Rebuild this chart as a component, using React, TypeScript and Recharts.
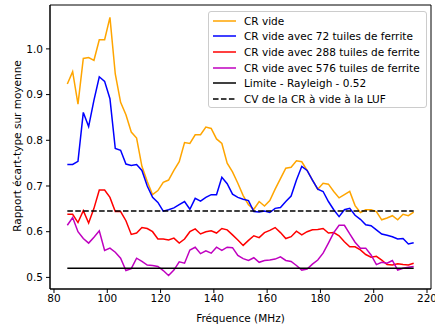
import { LineChart, Line, XAxis, YAxis, ReferenceLine, ReferenceArea } from 'recharts';

const freqs = [
  85, 87, 89, 91, 93, 95, 97, 99, 101, 103, 105, 107, 109, 111, 113, 115, 117, 119, 121, 123,
  125, 127, 129, 131, 133, 135, 137, 139, 141, 143, 145, 147, 149, 151, 153, 155, 157, 159, 161, 163,
  165, 167, 169, 171, 173, 175, 177, 179, 181, 183, 185, 187, 189, 191, 193, 195, 197, 199, 201, 203,
  205, 207, 209, 211, 213, 215,
];

const crVide = [
  0.923, 0.95, 0.879, 0.979, 0.981, 0.975, 1.02, 1.02, 1.069, 0.945, 0.883, 0.856, 0.818, 0.805, 0.743, 0.71, 0.681, 0.69, 0.708, 0.713,
  0.734, 0.753, 0.795, 0.793, 0.812, 0.812, 0.829, 0.826, 0.803, 0.793, 0.75, 0.731, 0.706, 0.679, 0.659, 0.649, 0.666, 0.656, 0.668, 0.693,
  0.716, 0.739, 0.741, 0.755, 0.753, 0.734, 0.713, 0.693, 0.706, 0.704, 0.688, 0.674, 0.681, 0.688, 0.657, 0.642, 0.648, 0.648, 0.644, 0.626,
  0.63, 0.635, 0.626, 0.638, 0.635, 0.643,
];

const crVide72 = [
  0.747, 0.747, 0.754, 0.861, 0.83, 0.888, 0.939, 0.929, 0.891, 0.782, 0.778, 0.748, 0.745, 0.747, 0.734, 0.7, 0.675, 0.664, 0.645, 0.648,
  0.652, 0.659, 0.666, 0.649, 0.673, 0.667, 0.675, 0.681, 0.681, 0.719, 0.705, 0.682, 0.675, 0.671, 0.668, 0.644, 0.643, 0.645, 0.642, 0.651,
  0.653, 0.666, 0.678, 0.713, 0.743, 0.734, 0.713, 0.693, 0.688, 0.666, 0.648, 0.633, 0.648, 0.651, 0.636, 0.627, 0.615, 0.613, 0.604, 0.595,
  0.592, 0.589, 0.584, 0.585, 0.573, 0.576,
];

const crVide288 = [
  0.638, 0.638, 0.62, 0.646, 0.619, 0.651, 0.691, 0.691, 0.675, 0.644, 0.644, 0.624, 0.594, 0.597, 0.609, 0.607, 0.6, 0.584, 0.584, 0.582,
  0.586, 0.575, 0.584, 0.6, 0.606, 0.595, 0.6, 0.602, 0.597, 0.607, 0.604, 0.593, 0.582, 0.57, 0.581, 0.591, 0.587, 0.598, 0.603, 0.609,
  0.598, 0.585, 0.589, 0.601, 0.593, 0.6, 0.604, 0.605, 0.607, 0.597, 0.598, 0.591, 0.578, 0.567, 0.567, 0.56, 0.55, 0.544, 0.546, 0.538,
  0.528, 0.527, 0.53, 0.528, 0.527, 0.531,
];

const crVide576 = [
  0.614, 0.631, 0.6, 0.585, 0.575, 0.588, 0.602, 0.559, 0.564, 0.555, 0.542, 0.515, 0.519, 0.542, 0.535, 0.527, 0.526, 0.524, 0.515, 0.504,
  0.516, 0.534, 0.531, 0.56, 0.566, 0.552, 0.558, 0.553, 0.566, 0.559, 0.566, 0.565, 0.548, 0.541, 0.537, 0.543, 0.533, 0.537, 0.538, 0.54,
  0.545, 0.537, 0.535, 0.526, 0.516, 0.518, 0.529, 0.538, 0.553, 0.575, 0.598, 0.614, 0.614, 0.595, 0.577, 0.564, 0.564, 0.549, 0.528, 0.533,
  0.531, 0.537, 0.516, 0.52, 0.522, 0.524,
];

const rayleighLimit = 0.52;
const lufCv = 0.645;

const xTicks = [80, 100, 120, 140, 160, 180, 200, 220];
const yTicks = [0.5, 0.6, 0.7, 0.8, 0.9, 1.0];
const xDomain = [78.5, 221.5];
const yDomain = [0.4746, 1.096];

const labels = [
  'CR vide',
  'CR vide avec 72 tuiles de ferrite',
  'CR vide avec 288 tuiles de ferrite',
  'CR vide avec 576 tuiles de ferrite',
  'Limite - Rayleigh - 0.52',
  'CV de la CR à vide à la LUF',
];
const colors = ['#ffa500', '#0000ff', '#ff0000', '#bf00bf', '#000000', '#000000'];

const data = freqs.map((f, i) => ({
  f,
  vide: crVide[i],
  v72: crVide72[i],
  v288: crVide288[i],
  v576: crVide576[i],
}));

const font = '"DejaVu Sans", sans-serif';
const fs = 10.5;

export default function App() {
  const f0 = freqs[0];
  const f1 = freqs[freqs.length - 1];
  return (
    <div style={{ position: 'absolute', left: 0, top: 0, width: 435, height: 324, background: '#fff', fontFamily: font }}>
      <LineChart width={435} height={324} data={data} margin={{ top: 5, right: 4, left: 0, bottom: 0 }}>
        <XAxis
          dataKey="f"
          type="number"
          domain={xDomain}
          ticks={xTicks}
          allowDataOverflow
          height={35}
          tickSize={4}
          tickMargin={2}
          stroke="#000"
          tick={{ fill: '#000', fontSize: fs, fontFamily: font }}
          label={{ value: 'Fréquence (MHz)', position: 'insideBottom', offset: 2, fill: '#000', fontSize: fs, fontFamily: font }}
        />
        <YAxis
          type="number"
          domain={yDomain}
          ticks={yTicks}
          allowDataOverflow
          width={50}
          tickSize={4}
          tickMargin={3}
          stroke="#000"
          tickFormatter={(v: number) => v.toFixed(1)}
          tick={{ fill: '#000', fontSize: fs, fontFamily: font }}
          label={{
            content: () => (
              <text
                x={16.5}
                y={146}
                transform="rotate(-90, 16.5, 146)"
                textAnchor="middle"
                dominantBaseline="central"
                fontSize={fs}
                fontFamily={font}
                fill="#000"
              >
                Rapport écart-type sur moyenne
              </text>
            ),
          }}
        />
        <ReferenceArea x1={xDomain[0]} x2={xDomain[1]} y1={yDomain[0]} y2={yDomain[1]} fill="none" stroke="#000" strokeWidth={1} />
        <Line dataKey="vide" stroke={colors[0]} strokeWidth={1.5} dot={false} isAnimationActive={false} />
        <Line dataKey="v72" stroke={colors[1]} strokeWidth={1.5} dot={false} isAnimationActive={false} />
        <Line dataKey="v288" stroke={colors[2]} strokeWidth={1.5} dot={false} isAnimationActive={false} />
        <Line dataKey="v576" stroke={colors[3]} strokeWidth={1.5} dot={false} isAnimationActive={false} />
        <ReferenceLine segment={[{ x: f0, y: rayleighLimit }, { x: f1, y: rayleighLimit }]} stroke="#000" strokeWidth={1.5} />
        <ReferenceLine segment={[{ x: f0, y: lufCv }, { x: f1, y: lufCv }]} stroke="#000" strokeWidth={1.5} strokeDasharray="5.55 2.4" />
      </LineChart>
      <div
        style={{
          position: 'absolute',
          left: 208,
          top: 11,
          width: 219,
          height: 97,
          border: '1px solid #cccccc',
          borderRadius: 3,
          background: 'rgba(255,255,255,0.8)',
          padding: '1px 0 0 4px',
          boxSizing: 'border-box',
          fontSize: fs,
          color: '#000',
        }}
      >
        {labels.map((t, i) => (
          <div key={t} style={{ display: 'flex', alignItems: 'center', height: 15.6, whiteSpace: 'nowrap' }}>
            <svg width={23} height={4} style={{ marginRight: 8, flex: 'none' }}>
              <line
                x1={0}
                y1={2}
                x2={23}
                y2={2}
                stroke={colors[i]}
                strokeWidth={1.5}
                strokeDasharray={i === 5 ? '5.55 2.4' : undefined}
              />
            </svg>
            <span>{t}</span>
          </div>
        ))}
      </div>
    </div>
  );
}
